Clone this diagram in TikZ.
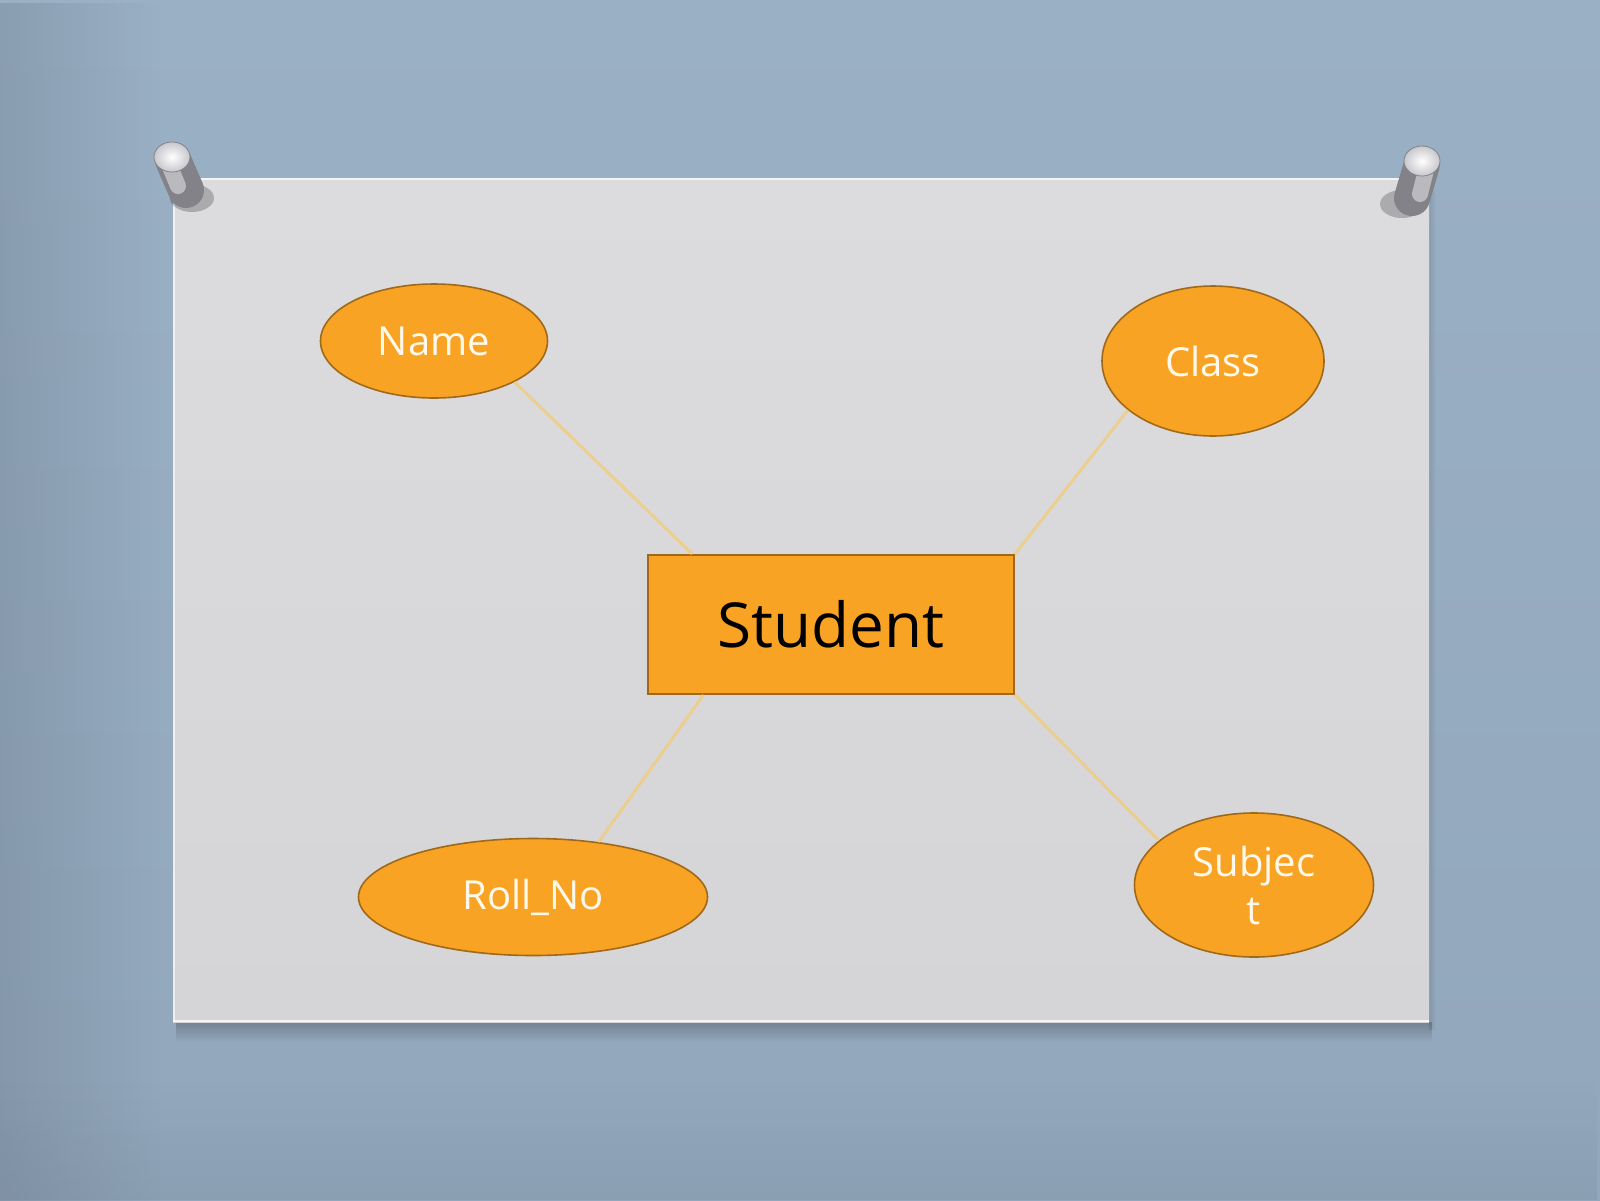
\documentclass[tikz,border=0pt]{standalone}
\usepackage{fontspec}
\setmainfont{Open Sans}
\usetikzlibrary{shapes.geometric,fadings,calc}
\definecolor{wallA}{RGB}{154,176,197}
\definecolor{wallB}{RGB}{146,167,188}
\definecolor{wallDark}{RGB}{90,104,118}
\definecolor{paperTop}{RGB}{220,220,222}
\definecolor{paperBot}{RGB}{213,212,214}
\definecolor{orangeFill}{RGB}{249,163,36}
\definecolor{orangeLine}{RGB}{160,105,25}
\definecolor{linkCol}{RGB}{243,204,118}
\definecolor{labelCol}{RGB}{255,249,236}
\definecolor{pinDark}{RGB}{130,130,136}
\definecolor{pinMid}{RGB}{185,185,190}
\definecolor{pinCap}{RGB}{200,200,205}
\tikzset{
  attr/.style={ellipse, draw=orangeLine, line width=1.6pt, fill=orangeFill,
    inner sep=0pt, text=labelCol, font=\fontsize{40}{48}\selectfont, align=center},
  entity/.style={rectangle, draw=orangeLine, line width=1.8pt, fill=orangeFill,
    inner sep=0pt, text=black, font=\fontsize{62}{70}\selectfont,
    minimum width=366pt, minimum height=139pt},
  link/.style={draw=linkCol, line width=3pt, opacity=0.75},
}
\begin{document}
\begin{tikzpicture}[x=1pt,y=-1pt]
\useasboundingbox (0,0) rectangle (1600,1200);
% wall
\shade[top color=wallA, bottom color=wallB] (0,0) rectangle (1600,1200);
\fill[wallDark, opacity=0.25, path fading=east] (0,0) rectangle (160,1200);
\fill[wallDark, opacity=0.12, path fading=north] (0,1080) rectangle (1600,1200);
% paper shadow
\fill[black, opacity=0.22, path fading=south] (176,1022) rectangle (1432,1042);
\fill[black, opacity=0.10, path fading=east] (1429,190) rectangle (1436,1030);
% paper
\shade[top color=paperTop, bottom color=paperBot] (173,178) rectangle (1429,1022);
\draw[white, line width=2pt, opacity=0.8] (173,1021) -- (1429,1021);
\draw[white, line width=2.5pt, opacity=0.7] (173,179) -- (1429,179);
\draw[white, line width=2pt, opacity=0.6] (174,178) -- (174,1022);
% left pin
\fill[black, opacity=0.22] (192,198) ellipse (22 and 14);
\draw[pinDark, line width=36pt, line cap=round] (173,160) -- (186,190);
\draw[pinMid, line width=16pt, line cap=round] (168,162) -- (178,186);
\shade[inner color=white, outer color=pinCap] (172,157) ellipse (18 and 15);
\draw[pinDark, line width=0.8pt] (172,157) ellipse (18 and 15);
% right pin
\fill[black, opacity=0.22] (1402,204) ellipse (22 and 14);
\draw[pinDark, line width=36pt, line cap=round] (1422,164) -- (1412,198);
\draw[pinMid, line width=16pt, line cap=round] (1427,166) -- (1420,194);
\shade[inner color=white, outer color=pinCap] (1422,161) ellipse (18 and 15);
\draw[pinDark, line width=0.8pt] (1422,161) ellipse (18 and 15);
% nodes
\node[entity] (student) at (831,624.5) {Student};
\node[attr, minimum width=227pt, minimum height=114pt] (name) at (434,341) {Name};
\node[attr, minimum width=222pt, minimum height=150pt] (class) at (1213,361) {Class};
\node[attr, minimum width=349pt, minimum height=117pt] (rollno) at (533,897) {Roll\_No};
\node[attr, minimum width=239pt, minimum height=144pt] (subject) at (1254,885) {Subjec\\t};
% connectors
\draw[link] (name.-27) -- ($(student.north west)!0.123!(student.north east)$);
\draw[link] (class.-150) -- (student.north east);
\draw[link] (rollno.40) -- ($(student.south west)!0.153!(student.south east)$);
\draw[link] (subject.155) -- (student.south east);
\end{tikzpicture}
\end{document}
